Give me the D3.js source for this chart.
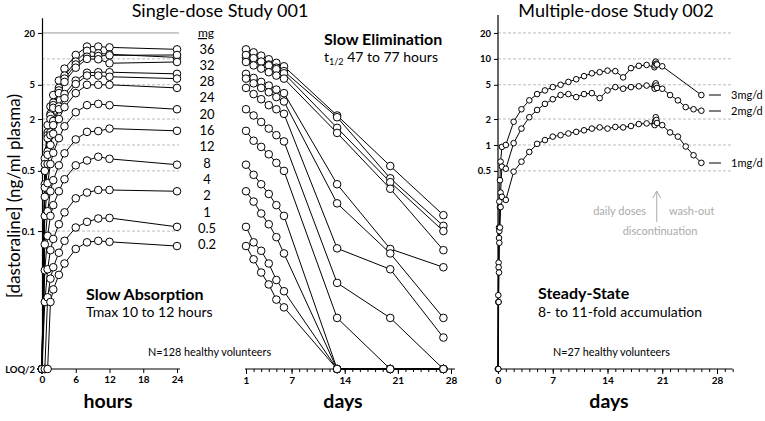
<!DOCTYPE html>
<html><head><meta charset="utf-8">
<script src="https://cdn.jsdelivr.net/npm/d3@7"></script>
<style>body{margin:0;background:#fff} text{font-family:Lato,"Open Sans",sans-serif}</style>
</head><body><svg id="c" width="765" height="421"></svg>
<script>
// ---------- data ----------
const LOQ = 0.0025; // "LOQ/2" level
const doseLabels = ["36","32","28","24","20","16","12","8","4","2","1","0.5","0.2"];
const hours = [0,0.5,1,1.5,2,3,4,6,8,10,12,24];
const abs36 = [LOQ,0.7,1.7,2.8,3.8,5.6,7.7,11.1,13.9,13.9,13.6,12.9];
const abs32 = [LOQ,0.6,1.4,2.3,3.1,4.6,6.4,9.3,12.4,11.6,11.3,10.4];
const abs28 = [LOQ,0.5,1.3,2.2,2.9,4.3,5.9,8.6,10.6,10.8,11.0,11.1];
const abs24 = [LOQ,0.5,1.2,2.0,2.7,4.0,5.4,7.9,10.0,9.9,8.9,9.2];
const abs20 = [LOQ,0.35,0.84,1.4,1.9,2.8,3.9,5.6,6.9,7.0,7.0,6.7];
const abs16 = [LOQ,0.32,0.77,1.3,1.7,2.6,3.5,5.1,6.4,6.4,6.2,5.9];
const abs12 = [LOQ,0.25,0.6,1.0,1.35,2.0,2.75,4.0,5.0,5.0,5.0,4.6];
const abs8  = [LOQ,0.15,0.36,0.6,0.81,1.2,1.65,2.4,2.9,3.0,2.9,2.6];
const abs4  = [LOQ,0.07,0.17,0.29,0.39,0.58,0.8,1.16,1.42,1.45,1.55,1.46];
const abs2  = [LOQ,0.035,0.088,0.15,0.2,0.29,0.4,0.58,0.66,0.73,0.69,0.59];
const abs1  = [LOQ,0.015,0.036,0.06,0.081,0.12,0.165,0.24,0.28,0.30,0.30,0.29];
const abs05 = [LOQ,LOQ,0.017,0.028,0.038,0.056,0.077,0.11,0.128,0.14,0.142,0.112];
const abs02 = [LOQ,LOQ,LOQ,0.015,0.021,0.031,0.042,0.062,0.074,0.077,0.075,0.067];

const elimDays = [1,2,3,4,5,6,13,20,27];
const el36 = [12.9,11.9,10.9,9.9,9.0,8.2,2.2,0.57,0.153];
const el32 = [10.4,9.8,9.2,8.6,7.9,7.2,2.1,0.41,0.115];
const el28 = [11.1,10.2,9.3,8.4,7.6,6.8,1.58,0.37,0.10];
const el24 = [9.2,8.4,7.7,7.0,6.4,5.9,1.38,0.31,0.06];
const el20 = [6.7,6.0,5.4,4.9,4.4,4.0,0.35,0.062,0.038];
const el16 = [5.9,5.2,4.6,4.1,3.6,3.2,0.21,0.055,0.0098];
const el12 = [4.6,3.9,3.4,2.9,2.6,2.3,0.063,0.036,0.0058];
const el8  = [2.6,2.2,1.85,1.55,1.3,1.1,0.025,0.0098,LOQ];
const el4  = [1.46,1.12,0.95,0.78,0.62,0.5,0.0098,LOQ,LOQ];
const el2  = [0.59,0.45,0.35,0.27,0.2,0.15,LOQ,LOQ,LOQ];
const el1  = [0.29,0.22,0.16,0.12,0.085,0.055,LOQ,LOQ,LOQ];
const el05 = [0.112,0.074,0.059,0.042,0.027,0.02,LOQ,LOQ,LOQ];
const el02 = [0.067,0.047,0.033,0.024,0.016,0.013,LOQ,LOQ,LOQ];

const md3Days = [0,0.04,0.08,0.13,0.17,0.25,0.33,0.5,1,2,3,4,5,6,7,8,9,10,11,12,13,14,15,16,17,18,19,20,20.04,20.08,20.17,20.25,20.33,21,26];
const md3Vals = [LOQ,0.018,0.043,0.11,0.22,0.39,0.64,0.95,1.0,1.86,2.6,3.3,3.9,4.3,4.7,5.0,5.4,5.8,6.3,6.8,7.0,7.3,7.2,6.1,7.8,8.3,8.5,8.0,8.4,9.0,9.3,8.8,8.6,8.2,3.8];
const md2Days = [0,0.04,0.08,0.13,0.17,0.25,0.33,0.5,1,2,3,4,5,6,7,8,9,10,11,12,13,14,15,16,17,18,19,20,20.04,20.08,20.17,20.25,20.33,21,22,23,24,25,26];
const md2Vals = [LOQ,0.015,0.038,0.083,0.1,0.19,0.28,0.56,0.53,1.05,1.55,2.1,2.55,3.0,3.4,3.8,3.9,3.6,3.9,4.0,3.5,4.3,4.7,4.5,4.7,4.8,4.9,4.7,4.5,5.0,5.2,4.9,4.6,4.5,3.8,3.3,2.75,2.6,2.5];
const md1Days = [0,0.04,0.08,0.13,0.17,0.25,0.33,0.5,1,2,3,4,5,6,7,8,9,10,11,12,13,14,15,16,17,18,19,20,20.04,20.08,20.17,20.25,20.33,21,22,23,24,25,26];
const md1Vals = [LOQ,LOQ,0.015,0.033,0.073,0.11,0.19,0.25,0.23,0.49,0.64,0.83,1.03,1.14,1.25,1.3,1.36,1.42,1.48,1.55,1.6,1.55,1.62,1.6,1.66,1.75,1.78,1.75,1.7,1.9,2.1,1.95,1.8,1.7,1.4,1.25,0.96,0.76,0.62];
const mdLabels = ["3mg/d","2mg/d","1mg/d"];

const p1Ticks = [20,5,2,0.5,0.1,LOQ];
const p1Grid = [10,5,2,1,0.5,0.1];
const p3Ticks = [20,10,5,2,1,0.5];
const hourTicks = [0,6,12,18,24];
const dayTicks2 = [1,7,14,21,28];
const dayTicks3 = [0,7,14,21,28];

// ---------- drawing ----------
const svg = d3.select("#c");
const y = d3.scaleLog().domain([LOQ,30]).range([369,17.8]);
const x1 = d3.scaleLinear().domain([0,24]).range([42,177]);
const x2 = d3.scaleLinear().domain([1,28]).range([246,451]);
const x3 = d3.scaleLinear().domain([0,28]).range([498,717]);
const fmt = v => v===LOQ ? "LOQ/2" : String(v);

// gridlines
const g1 = svg.append("g");
g1.selectAll("line.s").data([20]).join("line")
  .attr("x1",x1(0)).attr("x2",x1(24)+2).attr("y1",d=>y(d)).attr("y2",d=>y(d))
  .attr("stroke","#999").attr("stroke-width",1);
g1.selectAll("line.d").data(p1Grid).join("line")
  .attr("x1",x1(0)).attr("x2",x1(24)+2).attr("y1",d=>y(d)).attr("y2",d=>y(d))
  .attr("stroke","#aaa").attr("stroke-width",0.8).attr("stroke-dasharray","3,2");
svg.append("g").selectAll("line").data(p3Ticks).join("line")
  .attr("x1",x3(0)).attr("x2",x3(30)).attr("y1",d=>y(d)).attr("y2",d=>y(d))
  .attr("stroke","#aaa").attr("stroke-width",0.8).attr("stroke-dasharray","3,2");

function styleAxis(g, size){
  g.select(".domain").attr("stroke","#000").attr("stroke-width",1.2);
  g.selectAll(".tick line").attr("stroke","#000");
  g.selectAll("text").attr("font-weight","bold").attr("font-size",size).attr("fill","#000")
   .style("font-family","Lato,sans-serif");
}
// panel 1 axes
const a1 = svg.append("g").attr("transform","translate(42,0)")
  .call(d3.axisLeft(y).tickValues(p1Ticks).tickFormat(fmt).tickSize(4).tickSizeOuter(0));
styleAxis(a1,9.5);
const b1 = svg.append("g").attr("transform","translate(0,369)")
  .call(d3.axisBottom(x1).tickValues(hourTicks).tickSize(4).tickSizeOuter(0));
b1.select(".domain").attr("d",`M${x1(0)},0H${x1(24)+3}`);
styleAxis(b1,10);
// panel 2 axis
const m2 = svg.append("g").attr("transform","translate(0,369)")
  .call(d3.axisBottom(x2).tickValues(d3.range(1,29)).tickSize(3).tickFormat(""));
m2.select(".domain").attr("d",`M${x2(1)-1},0H${x2(28)+4}`);
m2.selectAll(".tick line").attr("stroke","#000");
m2.select(".domain").attr("stroke","#000").attr("stroke-width",1.2);
const b2 = svg.append("g").attr("transform","translate(0,369)")
  .call(d3.axisBottom(x2).tickValues(dayTicks2).tickSize(5).tickSizeOuter(0));
b2.select(".domain").remove();
styleAxis(b2,10);
// panel 3 axes
const a3 = svg.append("g").attr("transform",`translate(${x3(0)},0)`)
  .call(d3.axisLeft(y).tickValues(p3Ticks).tickFormat(fmt).tickSize(4).tickSizeOuter(0));
a3.select(".domain").attr("d",`M0,369V15`);
styleAxis(a3,9.5);
const m3 = svg.append("g").attr("transform","translate(0,369)")
  .call(d3.axisBottom(x3).tickValues(d3.range(0,31)).tickSize(3).tickFormat(""));
m3.select(".domain").attr("d",`M${x3(0)},0H${x3(30)}`).attr("stroke","#000").attr("stroke-width",1.2);
m3.selectAll(".tick line").attr("stroke","#000");
const b3 = svg.append("g").attr("transform","translate(0,369)")
  .call(d3.axisBottom(x3).tickValues(dayTicks3).tickSize(5).tickSizeOuter(0));
b3.select(".domain").remove();
styleAxis(b3,10);

// series
const absSeries = [abs36,abs32,abs28,abs24,abs20,abs16,abs12,abs8,abs4,abs2,abs1,abs05,abs02];
const elSeries = [el36,el32,el28,el24,el20,el16,el12,el8,el4,el2,el1,el05,el02];
const mdSeries = [[md3Days,md3Vals],[md2Days,md2Vals],[md1Days,md1Vals]];

function drawSeries(pts, xs){
  const line = d3.line().x(d=>xs(d[0])).y(d=>y(d[1]));
  svg.append("path").datum(pts).attr("d",line).attr("fill","none").attr("stroke","#000").attr("stroke-width",1);
}
function drawDots(pts, xs, r){
  svg.append("g").selectAll("circle").data(pts).join("circle")
    .attr("cx",d=>xs(d[0])).attr("cy",d=>y(d[1])).attr("r",r)
    .attr("fill","#fff").attr("stroke","#000").attr("stroke-width",1);
}
const p1 = absSeries.map(s => hours.map((h,i)=>[h,s[i]]));
const p2 = elSeries.map(s => elimDays.map((d,i)=>[d,s[i]]));
const p3 = mdSeries.map(([ds,vs]) => ds.map((d,i)=>[d,vs[i]]));
p1.forEach(p=>drawSeries(p,x1)); p1.forEach(p=>drawDots(p,x1,3.8));
p2.forEach(p=>drawSeries(p,x2)); p2.forEach(p=>drawDots(p,x2,3.8));
p3.forEach(p=>drawSeries(p,x3)); p3.forEach(p=>drawDots(p,x3,2.8));

// ---------- texts ----------
function txt(x,yy,s,opt={}){
  return svg.append("text").attr("x",x).attr("y",yy).text(s)
    .attr("font-size",opt.size||12).attr("font-weight",opt.bold?"bold":"normal")
    .attr("text-anchor",opt.anchor||"start").attr("fill",opt.fill||"#000");
}
txt(220,17,"Single-dose Study 001",{size:18,anchor:"middle"});
txt(616,17,"Multiple-dose Study 002",{size:18,anchor:"middle"});
svg.append("text").attr("transform","translate(20,196) rotate(-90)").attr("text-anchor","middle")
  .attr("font-size",17).text("[dastoraline] (ng/ml plasma)");
txt(108,408,"hours",{size:19.5,bold:true,anchor:"middle"});
txt(343,408,"days",{size:19.5,bold:true,anchor:"middle"});
txt(609,408,"days",{size:19.5,bold:true,anchor:"middle"});

// dose labels
txt(206,37,"mg",{size:12,anchor:"middle"}).attr("text-decoration","underline");
svg.append("g").selectAll("text").data(doseLabels).join("text")
  .attr("x",207).attr("y",(d,i)=>53.5+i*16.3).attr("text-anchor","middle")
  .attr("font-size",13).text(d=>d);

txt(86,300,"Slow Absorption",{size:16,bold:true});
txt(86,317,"Tmax 10 to 12 hours",{size:14});
txt(148,356,"N=128 healthy volunteers",{size:10.8});

txt(324,45,"Slow Elimination",{size:16,bold:true});
const t2 = svg.append("text").attr("x",324).attr("y",62).attr("font-size",14);
t2.append("tspan").text("t");
t2.append("tspan").attr("font-size",9).attr("dy",3).text("1/2");
t2.append("tspan").attr("dy",-3).text(" 47 to 77 hours");

txt(538,299,"Steady-State",{size:16,bold:true});
txt(538,317,"8- to 11-fold accumulation",{size:14});
txt(553,356,"N=27 healthy volunteers",{size:10.8});

// multi-dose labels
const mdLabelY = [95,111,163];
mdLabels.forEach((l,i)=>{
  svg.append("line").attr("x1",709).attr("x2",721).attr("y1",mdLabelY[i]).attr("y2",mdLabelY[i]).attr("stroke","#000");
  txt(731,mdLabelY[i]+4,l,{size:11});
});

// arrow annotation
svg.append("line").attr("x1",x3(20.3)).attr("x2",x3(20.3)).attr("y1",222).attr("y2",192).attr("stroke","#aaa");
svg.append("path").attr("d",`M${x3(20.3)-4},198L${x3(20.3)},191L${x3(20.3)+4},198`).attr("fill","none").attr("stroke","#aaa");
txt(646,215,"daily doses",{size:11,anchor:"end",fill:"#aaa"});
txt(669,215,"wash-out",{size:11,fill:"#aaa"});
txt(660,235,"discontinuation",{size:11,anchor:"middle",fill:"#aaa"});
</script></body></html>
